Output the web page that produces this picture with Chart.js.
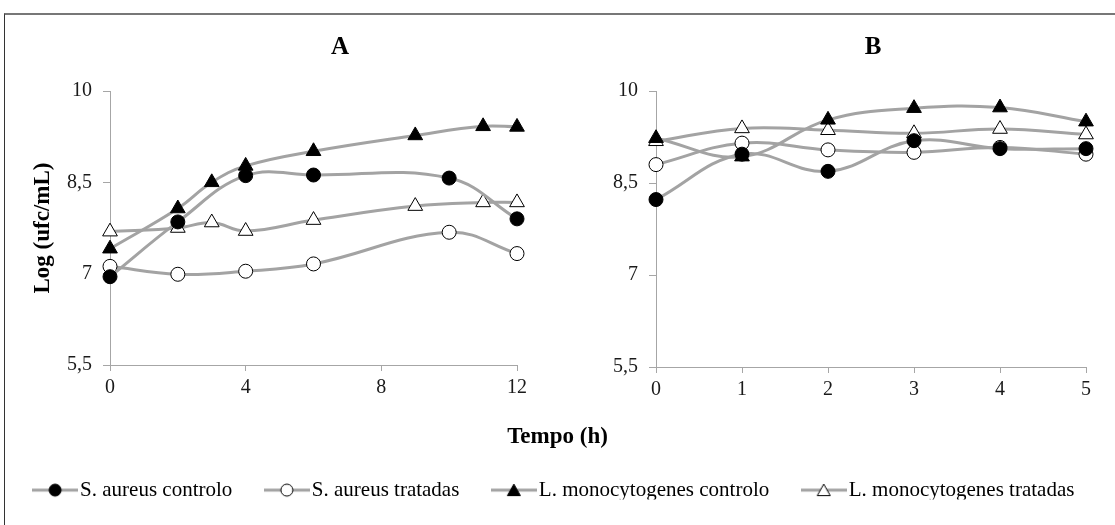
<!DOCTYPE html>
<html>
<head>
<meta charset="utf-8">
<script src="https://cdn.jsdelivr.net/npm/chart.js@4.4.0/dist/chart.umd.min.js"></script>
<style>
  html, body { margin: 0; padding: 0; background: #fff; }
  body { width: 1115px; height: 525px; position: relative; overflow: hidden; }
  #moldura { position: absolute; left: 4px; top: 13px; width: 1200px; height: 600px;
             border: 1px solid #333; border-top: 2px solid #777; }
  canvas { position: absolute; }
  #graficoA { left: 0; top: 13px; }
  #graficoB { left: 556px; top: 13px; }
  #legenda { left: 0; top: 405px; }
</style>
</head>
<body>
<div id="moldura"></div>
<canvas id="graficoA" width="545" height="400"></canvas>
<canvas id="graficoB" width="559" height="400"></canvas>
<canvas id="legenda" width="1115" height="120"></canvas>

<script>
// ---------- dados ----------
const nomesSeries = ["S. aureus controlo", "S. aureus tratadas", "L. monocytogenes controlo", "L. monocytogenes tratadas"];

// Painel A (tempo em h)
const tempoA_sa = [0, 2, 4, 6, 10, 12];
const tempoA_lm = [0, 2, 3, 4, 6, 9, 11, 12];
const saControloA = [6.95, 7.85, 8.61, 8.62, 8.57, 7.90];
const saTratadasA = [7.12, 6.99, 7.04, 7.16, 7.68, 7.33];
const lmControloA = [7.41, 8.07, 8.50, 8.77, 9.01, 9.27, 9.42, 9.41];
const lmTratadasA = [7.69, 7.75, 7.84, 7.70, 7.88, 8.11, 8.17, 8.17];

// Painel B
const tempoB = [0, 1, 2, 3, 4, 5];
const saControloB = [8.23, 8.97, 8.69, 9.19, 9.06, 9.06];
const saTratadasB = [8.80, 9.15, 9.04, 9.00, 9.08, 8.97];
const lmControloB = [9.23, 8.93, 9.53, 9.72, 9.73, 9.50];
const lmTratadasB = [9.18, 9.39, 9.36, 9.31, 9.38, 9.29];

// eixos
const ticksY = [5.5, 7, 8.5, 10];
const ticksXA = [0, 4, 8, 12];
const ticksXB = [0, 1, 2, 3, 4, 5];

// ---------- estilo ----------
const FONTE = "'Liberation Serif', 'Times New Roman', serif";
const CINZA_LINHA = "#a3a3a3";
const CINZA_EIXO = "#a6a6a6";

function serie(label, tempos, valores, estilo, cheio) {
    return {
        label: label,
        data: tempos.map((t, i) => ({ x: t, y: valores[i] })),
        borderColor: CINZA_LINHA,
        borderWidth: 3,
        tension: 0.4,
        fill: false,
        clip: false,
        pointStyle: estilo,
        pointRadius: estilo === "triangle" ? 8.5 : 7,
        pointBackgroundColor: cheio ? "#000" : "#fff",
        pointBorderColor: "#000",
        pointBorderWidth: 1
    };
}

// letra do painel (A / B) desenhada por cima da área do gráfico
const letraPainel = {
    id: "letraPainel",
    afterDraw(chart, args, opts) {
        const ctx = chart.ctx;
        ctx.save();
        ctx.font = "bold 25px " + FONTE;
        ctx.fillStyle = "#000";
        ctx.textAlign = "center";
        ctx.textBaseline = "middle";
        ctx.fillText(opts.texto, opts.x, opts.y);
        ctx.restore();
    }
};

function painel(id, titulo, datasets, ticksX, cfg) {
    new Chart(document.getElementById(id), {
        type: "line",
        data: { datasets: datasets },
        plugins: [letraPainel],
        options: {
            responsive: false,
            animation: false,
            events: [],
            layout: { padding: { left: cfg.padLeft, right: cfg.padRight, top: 78, bottom: 0 } },
            plugins: {
                legend: { display: false },
                tooltip: { enabled: false },
                letraPainel: { texto: titulo, x: cfg.letraX, y: 35 }
            },
            scales: {
                x: {
                    type: "linear",
                    min: ticksX[0], max: ticksX[ticksX.length - 1],
                    afterBuildTicks: ax => { ax.ticks = ticksX.map(v => ({ value: v })); },
                    afterFit: ax => { ax.height = cfg.xHeight; },
                    grid: { drawOnChartArea: false, drawTicks: true, tickLength: 6, color: CINZA_EIXO },
                    border: { color: CINZA_EIXO, width: 1 },
                    ticks: { color: "#1a1a1a", font: { family: FONTE, size: 20 }, padding: 5, maxRotation: 0 }
                },
                y: {
                    min: 5.5, max: 10,
                    afterBuildTicks: ax => { ax.ticks = ticksY.map(v => ({ value: v })); },
                    afterFit: ax => { ax.width = cfg.yWidth; },
                    title: cfg.yTitle
                        ? { display: true, text: cfg.yTitle, color: "#000",
                            font: { family: FONTE, size: 23, weight: "bold" }, padding: { top: 4, bottom: 0 } }
                        : { display: false },
                    grid: { drawOnChartArea: false, drawTicks: true, tickLength: 7, color: CINZA_EIXO },
                    border: { color: CINZA_EIXO, width: 1 },
                    ticks: {
                        color: "#1a1a1a", font: { family: FONTE, size: 20 }, padding: 11,
                        callback: v => String(v).replace(".", ",")
                    }
                }
            }
        }
    });
}

painel("graficoA", "A", [
    serie(nomesSeries[0], tempoA_sa, saControloA, "circle", true),
    serie(nomesSeries[1], tempoA_sa, saTratadasA, "circle", false),
    serie(nomesSeries[2], tempoA_lm, lmControloA, "triangle", true),
    serie(nomesSeries[3], tempoA_lm, lmTratadasA, "triangle", false)
], ticksXA, { padLeft: 25, yWidth: 85, padRight: 28, xHeight: 48, yTitle: "Log (ufc/mL)", letraX: 340 });

painel("graficoB", "B", [
    serie(nomesSeries[0], tempoB, saControloB, "circle", true),
    serie(nomesSeries[1], tempoB, saTratadasB, "circle", false),
    serie(nomesSeries[2], tempoB, lmControloB, "triangle", true),
    serie(nomesSeries[3], tempoB, lmTratadasB, "triangle", false)
], ticksXB, { padLeft: 0, yWidth: 100, padRight: 29, xHeight: 46, yTitle: null, letraX: 317 });

// ---------- legenda (linha + marcador) ----------
function icone(estilo, cheio) {
    const c = document.createElement("canvas");
    c.width = 46; c.height = 18;
    const g = c.getContext("2d");
    g.strokeStyle = CINZA_LINHA; g.lineWidth = 3;
    g.beginPath(); g.moveTo(0, 9); g.lineTo(46, 9); g.stroke();
    g.fillStyle = cheio ? "#000" : "#fff";
    g.strokeStyle = "#000"; g.lineWidth = 1;
    g.beginPath();
    if (estilo === "circle") {
        g.arc(23, 9, 6, 0, Math.PI * 2);
    } else {
        g.moveTo(23, 3); g.lineTo(29.5, 14.5); g.lineTo(16.5, 14.5); g.closePath();
    }
    g.fill(); g.stroke();
    return c;
}

const icones = [icone("circle", true), icone("circle", false), icone("triangle", true), icone("triangle", false)];

new Chart(document.getElementById("legenda"), {
    type: "line",
    data: { datasets: nomesSeries.map(n => ({ label: n, data: [] })) },
    options: {
        responsive: false,
        animation: false,
        events: [],
        scales: { x: { display: false }, y: { display: false } },
        plugins: {
            tooltip: { enabled: false },
            title: {
                display: true, text: "Tempo (h)", color: "#000",
                font: { family: FONTE, size: 23, weight: "bold" },
                padding: { top: 18, bottom: -11 }
            },
            legend: {
                display: true,
                position: "top",
                labels: {
                    usePointStyle: true,
                    pointStyleWidth: 29,
                    padding: 40,
                    color: "#000",
                    font: { family: FONTE, size: 21 },
                    generateLabels: () => icones.map((ic, i) => ({
                        text: nomesSeries[i],
                        pointStyle: ic,
                        datasetIndex: i,
                        hidden: false,
                        lineWidth: 0,
                        fillStyle: "#000",
                        strokeStyle: "#000",
                        fontColor: "#000"
                    }))
                }
            }
        }
    }
});
</script>
</body>
</html>
